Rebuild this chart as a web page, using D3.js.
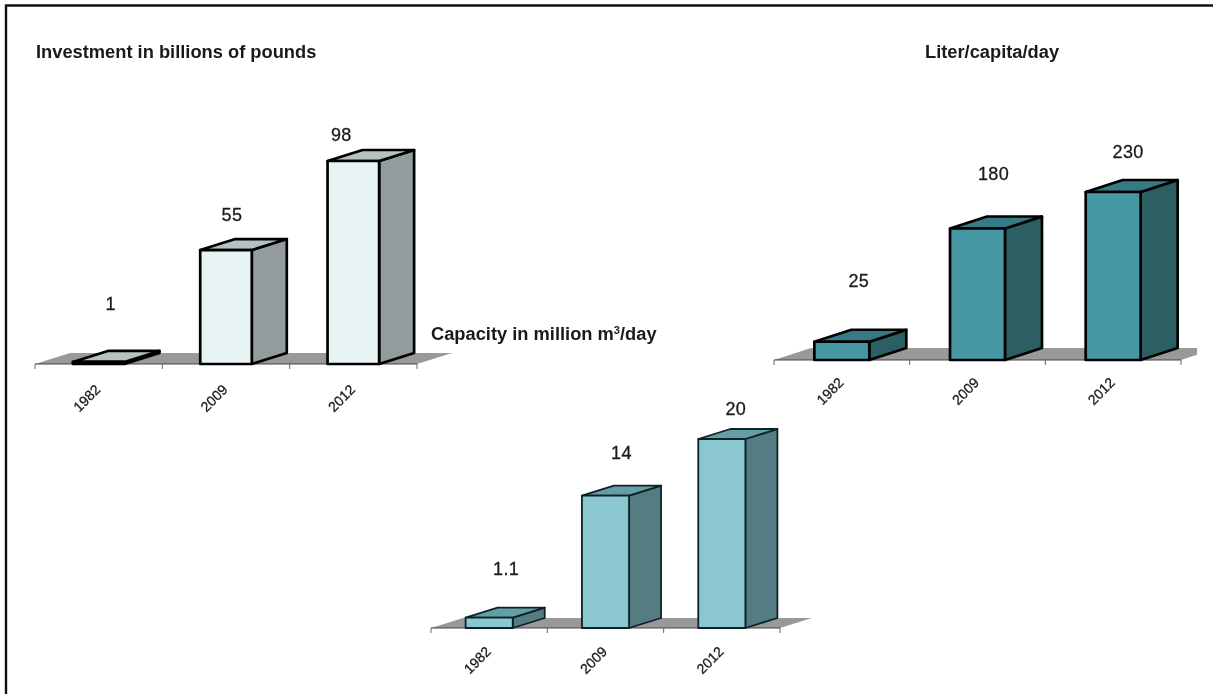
<!DOCTYPE html>
<html lang="en">
<head>
<meta charset="UTF-8">
<title>Investment, capacity and liter per capita</title>
<script src="https://d3js.org/d3.v7.min.js"></script>
<style>
  html, body { margin: 0; padding: 0; background: #fff; }
  svg { display: block; filter: blur(0.5px); }
  text { font-family: "Liberation Sans", Arial, sans-serif; fill: #1a1a1a; }
  .title { font-size: 18.3px; font-weight: bold; }
  .value { font-size: 18px; letter-spacing: 0.4px; stroke: #1a1a1a; stroke-width: 0.3px; }
  .tick text { font-size: 14px; stroke: #1a1a1a; stroke-width: 0.3px; }
</style>
</head>
<body>
<div id="wrapper"></div>

<script>
// data
const years = ["1982", "2009", "2012"];
const investment = [1, 55, 98];
const literPerCapita = [25, 180, 230];
const capacity = [1.1, 14, 20];

const width = 1213, height = 694;

const svg = d3.select("#wrapper").append("svg")
  .attr("width", width)
  .attr("height", height);

// picture frame
svg.append("path")
  .attr("d", `M6,${height} V5.5 H${width}`)
  .attr("fill", "none")
  .attr("stroke", "#111")
  .attr("stroke-width", 2.4);

// the right hand chart is cut off where the pasted picture ends
svg.append("clipPath").attr("id", "cut")
  .append("rect").attr("x", 0).attr("y", 0).attr("width", 1197).attr("height", height);

function chart3d(values, o) {
  const g = svg.append("g").attr("clip-path", o.clip ? "url(#cut)" : null);

  const x = d3.scaleBand()
    .domain(years)
    .range([o.left, o.right])
    .paddingInner(0.595)
    .paddingOuter(0.2975);

  const y = d3.scaleLinear()
    .domain([0, o.max])
    .range([o.base, o.top]);

  // floor
  g.append("path")
    .attr("d", d3.line()([
      [o.left, o.base], [o.left + o.dx, o.base - o.dy],
      [o.right + o.dx, o.base - o.dy], [o.right, o.base]
    ]) + "Z")
    .attr("fill", "#999");

  // axis, labels come from d3.axisBottom and the ticks sit between the bands
  const axis = g.append("g")
    .attr("transform", `translate(0,${o.base})`)
    .call(d3.axisBottom(x).tickSize(0).tickPadding(0));
  axis.select(".domain").remove();
  axis.selectAll(".tick text")
    .attr("text-anchor", "middle")
    .attr("dy", 0)
    .attr("y", 0)
    .attr("transform", `translate(-11,${o.labelDrop}) rotate(-45)`)
    .attr("dominant-baseline", "middle");

  g.append("line")
    .attr("x1", o.left).attr("x2", o.right)
    .attr("y1", o.base).attr("y2", o.base)
    .attr("stroke", "#444").attr("stroke-width", 1.2);

  g.selectAll(".edge")
    .data(d3.range(years.length + 1))
    .join("line")
      .attr("class", "edge")
      .attr("x1", i => o.left + i * x.step())
      .attr("x2", i => o.left + i * x.step())
      .attr("y1", o.base)
      .attr("y2", o.base + 5)
      .attr("stroke", "#666");

  // bars, side and top first, front last
  const bars = g.selectAll(".bar")
    .data(values.map((v, i) => ({year: years[i], value: v, i})))
    .join("g")
      .attr("class", "bar")
      .attr("fill", "none")
      .attr("stroke", o.stroke)
      .attr("stroke-width", o.strokeWidth)
      .attr("stroke-linejoin", "round");

  bars.append("path")
    .attr("fill", o.side)
    .attr("d", d => {
      const r = x(d.year) + x.bandwidth();
      return `M${r},${o.base} L${r + o.dx},${o.base - o.dy} V${y(d.value) - o.dy} L${r},${y(d.value)}Z`;
    });

  bars.append("path")
    .attr("fill", o.cap)
    .attr("d", d => {
      const l = x(d.year), r = l + x.bandwidth(), t = y(d.value);
      return `M${l},${t} L${l + o.dx},${t - o.dy} H${r + o.dx} L${r},${t}Z`;
    });

  bars.append("rect")
    .attr("fill", o.front)
    .attr("x", d => x(d.year))
    .attr("y", d => y(d.value))
    .attr("width", x.bandwidth())
    .attr("height", d => y(0) - y(d.value));

  // value labels were placed by hand in the original, so they have own offsets
  g.selectAll(".value")
    .data(values)
    .join("text")
      .attr("class", "value")
      .attr("text-anchor", "middle")
      .attr("x", (d, i) => x(years[i]) + x.bandwidth() / 2 + o.labelDx[i])
      .attr("y", (d, i) => y(d) + o.labelDy[i])
      .text(d => d);

  svg.append("text")
    .attr("class", "title")
    .attr("x", o.titleX)
    .attr("y", o.titleY)
    .html(o.title);
}

chart3d(investment, {
  left: 35, right: 417, base: 364, top: 161, max: 98, dx: 35, dy: 11,
  front: "#e8f4f4", cap: "#b5c2c2", side: "#929c9c",
  stroke: "#000", strokeWidth: 2.7, labelDrop: 35,
  labelDx: [12, 6, -12], labelDy: [-52, -29, -20],
  title: "Investment in billions of pounds", titleX: 36, titleY: 58
});

chart3d(literPerCapita, {
  left: 774, right: 1181, base: 360, top: 192, max: 230, dx: 37, dy: 12, clip: true,
  front: "#4597a3", cap: "#357a84", side: "#2b5f63",
  stroke: "#000", strokeWidth: 2.7, labelDrop: 32,
  labelDx: [17, 16, 15], labelDy: [-55, -49, -34],
  title: "Liter/capita/day", titleX: 925, titleY: 58
});

chart3d(capacity, {
  left: 431, right: 780, base: 628, top: 439, max: 20, dx: 32, dy: 10,
  front: "#8ac7d1", cap: "#659ea6", side: "#547c82",
  stroke: "#0c2226", strokeWidth: 1.8, labelDrop: 33,
  labelDx: [17, 16, 14], labelDy: [-43, -37, -24],
  title: "Capacity in million m<tspan font-size='11' dy='-6'>3</tspan><tspan dy='6'>/day</tspan>", titleX: 431, titleY: 340
});
</script>
</body>
</html>
